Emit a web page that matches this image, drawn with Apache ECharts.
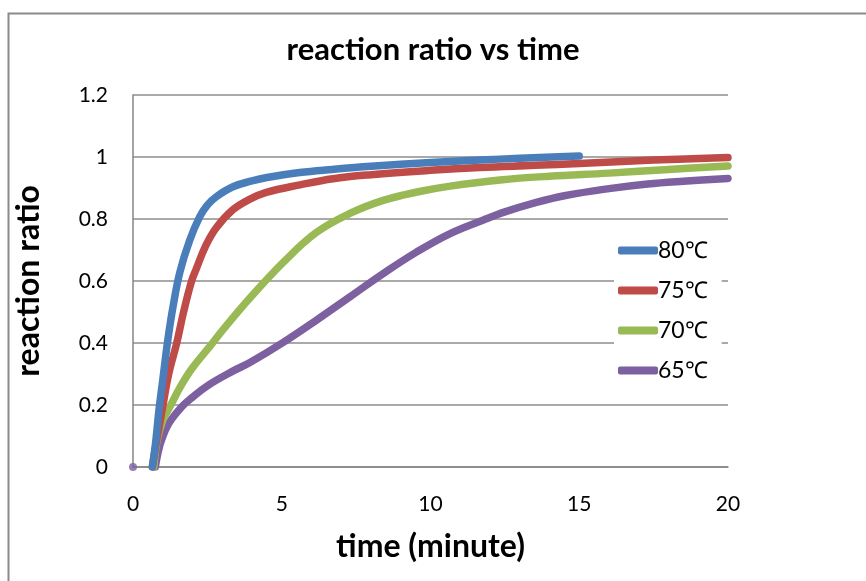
<!DOCTYPE html>
<html>
<head>
<meta charset="utf-8">
<script src="https://cdn.jsdelivr.net/npm/echarts@6/dist/echarts.min.js"></script>
<style>html,body{margin:0;padding:0;background:#fff;}#c{width:866px;height:581px;}</style>
</head>
<body>
<div id="c"></div>
<script>
const titleText = 'reaction ratio vs time';
const xName = 'time (minute)';
const yName = 'reaction ratio';
const seriesNames = ['80\u2103', '75\u2103', '70\u2103', '65\u2103'];
const seriesColors = ['#4a7ebb', '#be4b48', '#98b954', '#7d60a0'];

const t80 = [0.65, 0.75, 0.88, 1.0, 1.17, 1.35, 1.58, 1.9, 2.24, 2.5, 2.8, 3.36, 4, 4.5, 5.6, 6.7, 8, 10, 11.66, 13, 15];
const v80 = [0, 0.07, 0.19, 0.28, 0.41, 0.52, 0.63, 0.73, 0.807, 0.845, 0.872, 0.904, 0.923, 0.934, 0.95, 0.96, 0.97, 0.982, 0.99, 0.996, 1.003];

const t75 = [0.65, 0.75, 0.99, 1.2, 1.47, 1.7, 1.97, 2.13, 2.45, 2.8, 3.36, 3.93, 4.48, 5.61, 6.72, 8, 10, 11.66, 13.5, 15, 17.5, 20];
const v75 = [0, 0.06, 0.19, 0.3, 0.4, 0.5, 0.6, 0.64, 0.715, 0.772, 0.83, 0.864, 0.886, 0.91, 0.93, 0.943, 0.957, 0.966, 0.973, 0.979, 0.99, 0.998];

const t70 = [0.7, 0.8, 1.0, 1.24, 1.6, 2.0, 2.59, 3.0, 3.93, 5.05, 6.17, 7.29, 8.41, 9.54, 10.66, 12.34, 14, 16, 18, 20];
const v70 = [0, 0.08, 0.15, 0.194, 0.26, 0.32, 0.39, 0.44, 0.545, 0.66, 0.757, 0.818, 0.86, 0.887, 0.906, 0.926, 0.938, 0.948, 0.96, 0.971];

const t65 = [0.75, 0.85, 0.96, 1.2, 1.64, 2.0, 2.5, 3.37, 3.93, 5.05, 6.17, 7.29, 8.41, 9.54, 10.66, 11.78, 12.5, 13.5, 14.5, 16, 17.3, 18.5, 20];
const v65 = [0, 0.05, 0.087, 0.14, 0.194, 0.225, 0.262, 0.31, 0.337, 0.402, 0.474, 0.549, 0.624, 0.694, 0.753, 0.797, 0.823, 0.852, 0.875, 0.898, 0.913, 0.922, 0.931];

const originT = [0];
const originV = [0];

const xTicks = {min: 0, max: 20, interval: 5};
const yTicks = {min: 0, max: 1.2, interval: 0.2};

const zip = (a, b) => a.map((x, i) => [x, b[i]]);
const allT = [t80, t75, t70, t65];
const allV = [v80, v75, v70, v65];

const FONT = 'Lato';
const chart = echarts.init(document.getElementById('c'), null, {renderer: 'canvas'});
const series = seriesNames.map((n, i) => ({
  name: n,
  type: 'line',
  data: zip(allT[i], allV[i]),
  smooth: 0.4,
  showSymbol: false,
  symbol: 'none',
  lineStyle: {color: seriesColors[i], width: 7.5, cap: 'round', join: 'round'},
  itemStyle: {color: seriesColors[i]},
  z: 3 + (3 - i)
}));
series.push({
  name: 'origin',
  type: 'scatter',
  data: zip(originT, originV),
  symbol: 'circle',
  symbolSize: 8,
  itemStyle: {color: seriesColors[3]},
  z: 2
});

chart.setOption({
  animation: false,
  backgroundColor: '#fff',
  graphic: [{
    type: 'rect',
    left: 6, top: 11,
    shape: {width: 900, height: 620},
    style: {fill: 'none', stroke: '#8a8a8a', lineWidth: 2},
    silent: true, z: -10
  }],
  title: {
    text: titleText,
    left: 'center',
    top: 29,
    textStyle: {fontFamily: FONT, fontWeight: 'bold', fontSize: 31, color: '#000'}
  },
  legend: {
    data: seriesNames,
    orient: 'vertical',
    left: 614,
    top: 237,
    itemWidth: 40,
    itemHeight: 8,
    itemGap: 17,
    icon: 'roundRect',
    backgroundColor: '#fff',
    padding: [2, 14, 2, 4],
    textStyle: {fontFamily: FONT, fontSize: 23, color: '#000', padding: [0, 0, 0, -5]}
  },
  grid: {left: 133, right: 138, top: 95, bottom: 114, containLabel: false},
  xAxis: {
    type: 'value',
    min: xTicks.min, max: xTicks.max, interval: xTicks.interval,
    name: xName,
    nameLocation: 'middle',
    nameGap: 64,
    nameTextStyle: {fontFamily: FONT, fontWeight: 'bold', fontSize: 32, color: '#000'},
    axisLine: {show: true, lineStyle: {color: '#868686', width: 1.5}},
    axisTick: {show: false},
    splitLine: {show: false},
    axisLabel: {fontFamily: FONT, fontSize: 21, color: '#000', margin: 27}
  },
  yAxis: {
    type: 'value',
    min: yTicks.min, max: yTicks.max, interval: yTicks.interval,
    name: yName,
    nameLocation: 'middle',
    nameGap: 88,
    nameRotate: 90,
    nameTextStyle: {fontFamily: FONT, fontWeight: 'bold', fontSize: 32, color: '#000'},
    axisLine: {show: true, lineStyle: {color: '#868686', width: 1.5}},
    axisTick: {show: false},
    splitLine: {show: true, lineStyle: {color: '#8c8c8c', width: 1.5}},
    axisLabel: {fontFamily: FONT, fontSize: 21, color: '#000', margin: 25}
  },
  series: series
});
</script>
</body>
</html>
